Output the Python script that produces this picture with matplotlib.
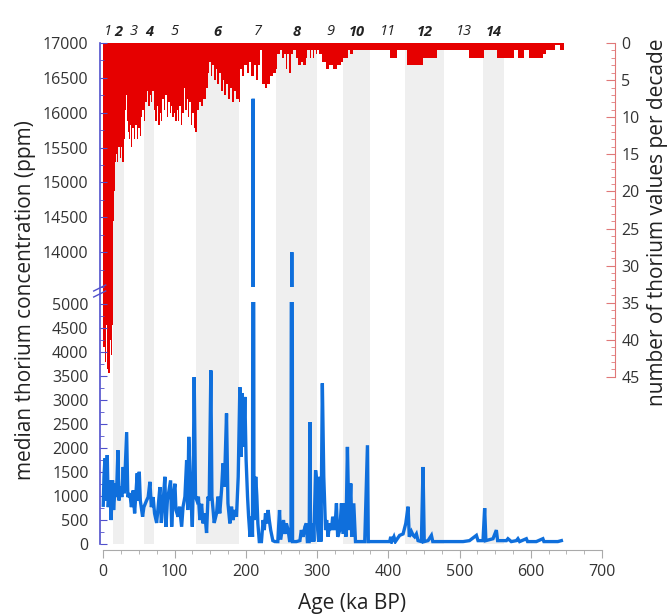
import matplotlib.pyplot as plt
from matplotlib.ticker import MultipleLocator, FixedLocator

plt.rcParams['font.family'] = ['Open Sans', 'DejaVu Sans']

# marine isotope stage boundaries (ka)
mis_start = [0, 14, 29, 57, 71, 130, 191, 243, 300, 337, 374, 424, 478, 533]
mis_end = [14, 29, 57, 71, 130, 191, 243, 300, 337, 374, 424, 478, 533, 563]
mis_names = ['1', '2', '3', '4', '5', '6', '7', '8', '9', '10', '11', '12', '13', '14']

# number of thorium values per decade (step start ages, ka)
red_age = [0, 2, 4, 5, 6, 7, 9, 11, 12, 13, 14, 15, 16, 17, 18, 19, 21, 23, 25, 27,
           29, 30, 31, 32, 33, 34, 35, 36, 38, 39, 41, 43, 45, 47, 49, 51, 53, 55, 57,
           59, 61, 63, 65, 67, 69, 71, 73, 75, 77, 79, 81, 83, 85, 87, 89, 91, 93, 95,
           97, 99, 101, 103, 105, 107, 109, 111, 113, 115, 117, 119, 121, 123, 125, 127,
           129, 131, 134, 137, 140, 144, 147, 149, 151, 153, 156, 158, 160, 163, 165,
           168, 170, 172, 175, 178, 181, 184, 187, 190, 192, 195, 198, 202, 205, 208,
           211, 214, 217, 220, 223, 227, 230, 234, 238, 242, 244, 248, 251, 253, 256,
           258, 260, 263, 266, 270, 273, 277, 280, 284, 286, 290, 292, 294, 296, 298,
           300, 303, 307, 312, 317, 322, 328, 333, 336, 343, 347, 350, 402, 412, 426,
           449, 453, 468, 514, 535, 552, 577, 582, 591, 598, 617, 622, 634, 641, 646]
red_count = [41, 43, 38, 44, 42, 44.5, 40, 42, 38, 31, 24, 20, 18, 16, 15, 16, 14, 15.5,
             14, 16, 13, 12.5, 9, 7, 11, 10.5, 12, 13, 11, 14, 11.5, 13, 11, 13, 11.5,
             12.5, 10, 9, 10.5, 8, 6.5, 8.5, 7, 8, 6.5, 9, 10.5, 8.5, 11, 9.5, 10.5, 7.5,
             9, 7, 10, 8, 9.5, 8.5, 10, 9.5, 10.5, 9, 10.5, 8.5, 11, 9.5, 6, 9, 7.5, 10,
             8, 11, 9.5, 11.5, 12, 9, 8, 8.5, 7.5, 6, 4, 2.5, 4.5, 3, 5, 3.5, 5.5, 4, 6.5,
             5, 7, 5.5, 7.5, 6, 8, 6.5, 7.5, 8, 3.5, 4.5, 3, 4, 2.5, 4.5, 3, 5, 3, 1,
             5.5, 6, 5.5, 4.5, 4, 3.5, 1.5, 1, 2, 1.5, 3.5, 1.5, 4, 1.5, 1, 2, 3, 2.5, 3,
             2, 1, 2, 1, 2, 1, 1.5, 1, 1.5, 2.5, 3.5, 3, 3.5, 3, 2.5, 2, 1, 1.5, 1, 2, 1,
             3, 2, 2, 1, 2, 1, 2, 1, 2, 1, 2, 1.5, 1, 0.3, 1, 1]

# median thorium concentration (ppm)
th_age = [0, 1, 2.4, 3.5, 5.6, 7, 9.4, 11, 13, 14.5, 17, 18.5, 20.6, 22, 24.4, 26, 28,
          29.5, 32.8, 34.5, 37.4, 39.5, 42, 44, 47.7, 49, 50.5, 52, 55.2, 57, 60.8, 63,
          65.5, 67.5, 70, 72, 74.9, 77, 79.5, 81.5, 83.5, 86.5, 88, 90, 94.5, 96, 98,
          100.6, 102, 105, 107, 110, 112, 114.6, 117, 118.5, 120, 121.5, 123, 125, 126,
          127.6, 129.5, 131.4, 133.5, 135.6, 138, 140, 142.5, 145, 147, 148.7, 151, 152.5,
          155.7, 159, 161, 163.5, 166, 168, 170, 173, 175, 177.7, 180, 182, 184.5, 187,
          189.4, 191.7, 193.5, 195, 197, 198.7, 200.5, 202.5, 204, 206, 207.5, 209.5,
          210.4, 211.5, 214, 215.5, 217, 219, 222, 224.4, 226, 227.7, 229.5, 231.4, 233,
          235, 238, 240.8, 245, 247.4, 249, 251, 253, 255, 257, 259.5, 261.5, 263.5,
          264.6, 265.7, 271, 276, 278, 280.5, 283, 285, 286.5, 289, 290, 291, 294.5,
          295.5, 298, 299.5, 301, 302.5, 304, 305.5, 307.5, 309.5, 312, 313.5, 315.6,
          317.5, 320.3, 322, 325, 327.3, 329, 332, 334.3, 336.5, 339, 340.5, 342.7, 345,
          347.4, 349, 351.6, 354, 360, 367, 370.8, 372, 402, 403.5, 405, 408, 410, 416,
          420.8, 424.6, 427.8, 429.5, 432.5, 435, 437, 439.5, 441.8, 446.5, 448.8, 450.5,
          455.8, 460.6, 462.5, 505, 514, 521, 523.7, 526, 533, 535.3, 537, 547, 551.7,
          553.5, 565.8, 568, 572.7, 579.8, 582, 584.4, 593.8, 595.5, 607.8, 617, 618.5,
          626.5, 638, 643]
th_ppm = [800, 1400, 1780, 900, 1850, 760, 1320, 490, 1320, 700, 1260, 970, 1950, 900,
          1190, 970, 1600, 1050, 2330, 970, 1050, 760, 1110, 630, 1470, 900, 1500, 900,
          560, 760, 900, 970, 1290, 760, 970, 630, 430, 760, 1180, 430, 760, 1395, 350,
          900, 1320, 350, 970, 1250, 700, 560, 770, 350, 770, 980, 1740, 700, 2230, 1530,
          980, 350, 1000, 3480, 980, 900, 980, 490, 830, 420, 630, 220, 980, 900, 3620,
          980, 430, 630, 980, 630, 1115, 1675, 1190, 2720, 840, 420, 770, 490, 700, 560,
          1395, 3270, 1810, 3140, 2020, 3065, 1745, 980, 560, 140, 560, 140, 16200, 490,
          1395, 1000, 420, 40, 40, 490, 280, 630, 420, 700, 490, 280, 60, 40, 40, 700, 80,
          280, 490, 200, 420, 280, 60, 60, 14000, 40, 40, 60, 280, 140, 350, 420, 40, 40,
          2540, 40, 420, 40, 1530, 1325, 280, 40, 1395, 40, 3350, 1395, 280, 490, 140,
          420, 280, 560, 280, 840, 140, 280, 840, 200, 840, 140, 2020, 280, 1255, 140,
          840, 40, 40, 40, 2055, 40, 40, 140, 40, 140, 40, 170, 200, 420, 770, 140, 250,
          170, 140, 200, 60, 40, 1600, 40, 60, 170, 40, 40, 60, 140, 170, 60, 60, 740, 60,
          100, 280, 60, 60, 100, 40, 60, 100, 40, 100, 40, 40, 100, 40, 40, 40, 60]

W, H = 671, 615
x0, x1 = 99.7, 602
y_top, y_bot = 43, 543.5
blue = '#0f6fdc'
spine_blue = '#5050cc'
red = '#e60000'
red_spine = '#e07878'

fig = plt.figure(figsize=(W / 100, H / 100), dpi=100)

bg = fig.add_axes([x0 / W, 1 - y_bot / H, (x1 - x0) / W, (y_bot - y_top) / H])
up = fig.add_axes([x0 / W, 1 - 287 / H, (x1 - x0) / W, (287 - y_top) / H])
lo = fig.add_axes([x0 / W, 1 - y_bot / H, (x1 - x0) / W, (y_bot - 302) / H])

for a in (bg, up, lo):
    a.set_xlim(-5, 700)
    a.patch.set_alpha(0)
bg.patch.set_alpha(1)

# shaded even stages
for s, e, n in zip(mis_start, mis_end, mis_names):
    if int(n) % 2 == 0:
        bg.axvspan(s, e, color='#efefef', lw=0, zorder=0)
    bg.text((s + e) / 2, 1.022, n, transform=bg.get_xaxis_transform(),
            ha='center', va='center', fontsize=10.5, style='italic',
            fontweight='bold' if int(n) % 2 == 0 else 'normal', color='#222222')

# red counts on the right, inverted axis
bg.fill_between(red_age, 0, red_count, step='post', color=red, lw=0, zorder=2)
bg.set_ylim(67.45, 0)
bg.yaxis.set_ticks_position('right')
bg.set_yticks(range(0, 50, 5))
bg.yaxis.set_minor_locator(FixedLocator(range(0, 46)))
bg.spines['right'].set_position(('outward', 9))
bg.spines['right'].set_bounds(0, 45)
bg.spines['right'].set_color(red_spine)
bg.spines['left'].set_color(spine_blue)
bg.spines['left'].set_linewidth(1.2)
for k in ('top', 'bottom'):
    bg.spines[k].set_visible(False)
bg.tick_params(axis='y', which='major', direction='in', length=6.5, color=red_spine,
               labelsize=11.5, labelcolor='#333333', pad=5)
bg.tick_params(axis='y', which='minor', direction='in', length=3.2, color=red_spine)
bg.set_xticks([])

# blue median concentration, broken left axis
for a in (up, lo):
    a.plot(th_age, th_ppm, color=blue, lw=2.4, solid_joinstyle='miter', zorder=3)
    for k in ('top', 'right', 'left'):
        a.spines[k].set_visible(False)
    a.tick_params(axis='y', which='major', direction='in', length=5, color=spine_blue,
                  labelsize=11.5, labelcolor='#333333', pad=8)
    a.tick_params(axis='y', which='minor', direction='in', length=3, color=spine_blue)
    a.yaxis.set_minor_locator(MultipleLocator(250))

up.set_ylim(13500, 17000)
up.set_yticks(range(14000, 17001, 500))
up.spines['bottom'].set_visible(False)
up.set_xticks([])

lo.set_ylim(0, 5050)
lo.set_yticks(range(0, 5001, 500))
lo.spines['bottom'].set_position(('outward', 5))
lo.spines['bottom'].set_bounds(0, 700)
lo.spines['bottom'].set_color('#aaaaaa')
lo.set_xticks(range(0, 701, 100))
lo.xaxis.set_minor_locator(MultipleLocator(25))
lo.tick_params(axis='x', which='major', length=6, color='#aaaaaa', labelsize=11.5,
               labelcolor='#333333', pad=4)
lo.tick_params(axis='x', which='minor', length=3, color='#aaaaaa')

# break marks on the left axis
for yy in (288, 294):
    fig.add_artist(plt.Line2D([(x0 - 6) / W, (x0 + 6) / W],
                              [1 - (yy + 3) / H, 1 - (yy - 3) / H],
                              color=spine_blue, lw=1))

fig.text(26 / W, 1 - 300 / H, 'median thorium concentration (ppm)', rotation=90,
         ha='center', va='center', fontsize=15, color='#222222')
fig.text(657 / W, 1 - 222 / H, 'number of thorium values per decade', rotation=90,
         ha='center', va='center', fontsize=15, color='#222222')
fig.text(352 / W, 1 - 603 / H, 'Age (ka BP)', ha='center', va='center',
         fontsize=15, color='#222222')

fig.savefig('out.png', dpi=100)
